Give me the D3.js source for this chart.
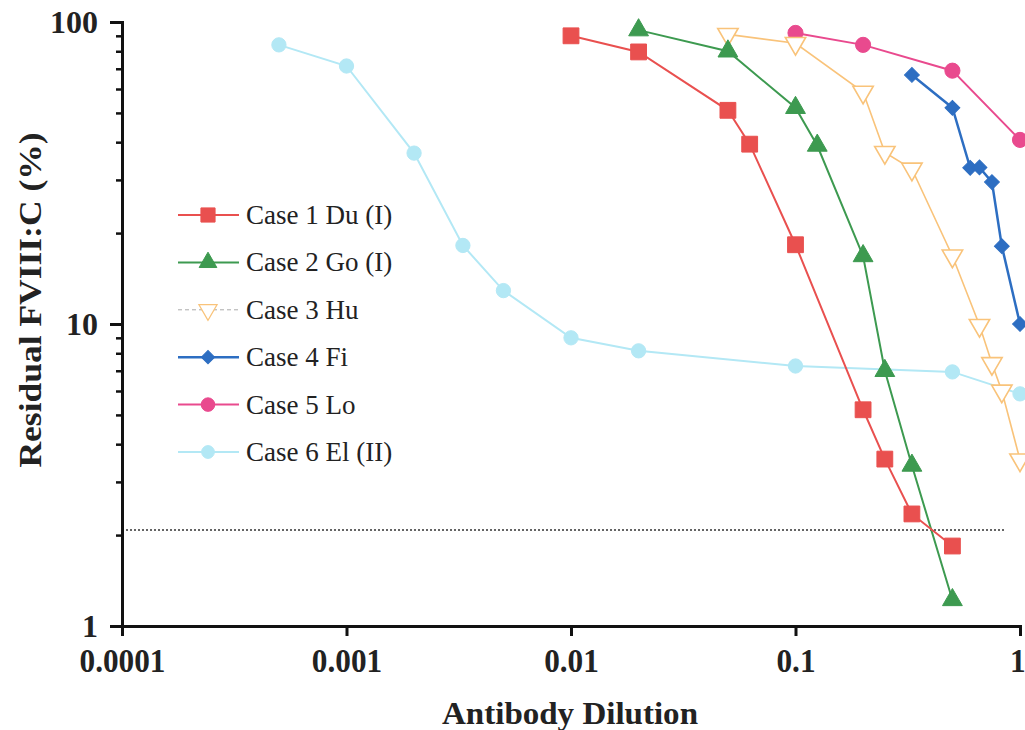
<!DOCTYPE html>
<html>
<head lang="en">
    <meta charset="UTF-8">
    <title>Residual FVIII:C</title>
    <script src="https://cdn.jsdelivr.net/npm/d3@7/dist/d3.min.js"></script>
    <style>
        body { margin: 0; background: #fff; }
        svg text { font-family: "Liberation Serif", "DejaVu Serif", serif; }
    </style>
</head>
<body>
<div id="chart"></div>
<script>
    // dilution (x) and residual FVIII:C % (y) per case
    var case1X = [0.01, 0.02, 0.05, 0.0625, 0.1, 0.2, 0.25, 0.33, 0.5];
    var case1Y = [90, 79.6, 51, 39.4, 18.3, 5.2, 3.57, 2.35, 1.84];
    var case2X = [0.02, 0.05, 0.1, 0.125, 0.2, 0.25, 0.33, 0.5];
    var case2Y = [94, 80, 52, 39, 16.8, 7.0, 3.4, 1.22];
    var case3X = [0.05, 0.1, 0.2, 0.25, 0.33, 0.5, 0.66, 0.75, 0.83, 1];
    var case3Y = [91, 85, 58.6, 37, 32.6, 16.8, 9.9, 7.4, 6.0, 3.55];
    var case4X = [0.33, 0.5, 0.6, 0.66, 0.75, 0.83, 1];
    var case4Y = [66.8, 52, 32.9, 33, 29.5, 18.1, 10];
    var case5X = [0.1, 0.2, 0.5, 1];
    var case5Y = [92, 84, 69, 40.7];
    var case6X = [0.0005, 0.001, 0.002, 0.0033, 0.005, 0.01, 0.02, 0.1, 0.5, 1];
    var case6Y = [84, 71.5, 36.8, 18.2, 12.9, 9.0, 8.15, 7.26, 6.94, 5.87];

    var caseNames = ["Case 1 Du (I)", "Case 2 Go (I)", "Case 3 Hu", "Case 4 Fi", "Case 5 Lo", "Case 6 El (II)"];

    var cutoffY = 2.08;
    var cutoffX = [0.0001, 0.86];

    var xTicks = [0.0001, 0.001, 0.01, 0.1, 1];
    var xTickLabels = ["0.0001", "0.001", "0.01", "0.1", "1"];
    var yTicks = [1, 10, 100];
    var yTickLabels = ["1", "10", "100"];
    var yMinor = [2, 3, 4, 5, 6, 7, 8, 9, 20, 30, 40, 50, 60, 70, 80, 90];

    var series = [
        {x: case1X, y: case1Y, color: "#e9504f", shape: d3.symbolSquare, size: 250, fill: true, width: 2},
        {x: case2X, y: case2Y, color: "#3d9a50", shape: d3.symbolTriangle, size: 170, fill: true, width: 2},
        {x: case3X, y: case3Y, color: "#f9c37a", shape: d3.symbolTriangle, size: 180, fill: false, width: 1.6, rot: 180},
        {x: case4X, y: case4Y, color: "#2d6ec2", shape: d3.symbolSquare, size: 110, fill: true, width: 2.5, rot: 45},
        {x: case5X, y: case5Y, color: "#e94a8e", shape: d3.symbolCircle, size: 180, fill: true, width: 2},
        {x: case6X, y: case6Y, color: "#b3e8f5", shape: d3.symbolCircle, size: 160, fill: true, width: 2}
    ];

    var W = 1025, H = 730;
    var svg = d3.select("#chart").append("svg").attr("width", W).attr("height", H);

    var x = d3.scaleLog().domain([0.0001, 1]).range([122, 1020]);
    var y = d3.scaleLog().domain([1, 100]).range([626, 22]);

    // cutoff line
    svg.append("line")
        .attr("x1", x(cutoffX[0])).attr("x2", x(cutoffX[1]))
        .attr("y1", y(cutoffY)).attr("y2", y(cutoffY))
        .attr("stroke", "#333").attr("stroke-width", 1.6)
        .attr("stroke-dasharray", "2,2");

    // series lines and markers
    var line = d3.line().x(function(d){ return x(d[0]); }).y(function(d){ return y(d[1]); });
    series.slice().reverse().forEach(function(s){
        var pts = s.x.map(function(v, i){ return [v, s.y[i]]; });
        svg.append("path").datum(pts)
            .attr("d", line)
            .attr("fill", "none")
            .attr("stroke", s.color)
            .attr("stroke-width", s.width);
        svg.selectAll(null).data(pts).enter().append("path")
            .attr("d", d3.symbol().type(s.shape).size(s.size))
            .attr("transform", function(d){
                return "translate(" + x(d[0]) + "," + y(d[1]) + ")" + (s.rot ? " rotate(" + s.rot + ")" : "");
            })
            .attr("fill", s.fill ? s.color : "#fff")
            .attr("stroke", s.color)
            .attr("stroke-width", s.fill ? 1 : 1.6);
    });

    // axes
    var xAxis = d3.axisBottom(x).tickValues(xTicks).tickSize(10).tickFormat(function(d, i){ return xTickLabels[i]; });
    var gx = svg.append("g").attr("transform", "translate(0," + 626 + ")").call(xAxis);
    gx.select(".domain").attr("stroke", "#111").attr("stroke-width", 3);
    gx.selectAll(".tick line").attr("stroke", "#111").attr("stroke-width", 3);
    gx.selectAll(".tick text")
        .attr("y", 46).attr("dy", null)
        .attr("font-size", 34).attr("font-weight", "bold").attr("fill", "#222")
        .attr("transform", "scale(0.92,1)");
    // last label sits against the right edge
    gx.selectAll(".tick text").filter(function(d){ return d === 1; }).attr("x", -3);

    var yAxisMinor = d3.axisLeft(y).tickValues(yMinor).tickSize(6).tickFormat("");
    var gym = svg.append("g").attr("transform", "translate(122,0)").call(yAxisMinor);
    gym.select(".domain").remove();
    gym.selectAll(".tick line").attr("stroke", "#111").attr("stroke-width", 2.5);

    var yAxis = d3.axisLeft(y).tickValues(yTicks).tickSize(12).tickFormat(function(d, i){ return yTickLabels[i]; });
    var gy = svg.append("g").attr("transform", "translate(122,0)").call(yAxis);
    gy.select(".domain").attr("stroke", "#111").attr("stroke-width", 3);
    gy.selectAll(".tick line").attr("stroke", "#111").attr("stroke-width", 3);
    gy.selectAll(".tick text")
        .attr("x", -24)
        .attr("font-size", 32).attr("font-weight", "bold").attr("fill", "#222");

    // axis titles
    svg.append("text")
        .attr("x", 570).attr("y", 724)
        .attr("text-anchor", "middle")
        .attr("font-size", 31).attr("font-weight", "bold").attr("fill", "#222")
        .attr("textLength", 256).attr("lengthAdjust", "spacingAndGlyphs")
        .text("Antibody Dilution");
    svg.append("text")
        .attr("transform", "translate(41,300) rotate(-90)")
        .attr("text-anchor", "middle")
        .attr("font-size", 31).attr("font-weight", "bold").attr("fill", "#222")
        .attr("textLength", 335).attr("lengthAdjust", "spacingAndGlyphs")
        .text("Residual FVIII:C (%)");

    // legend
    var legend = svg.append("g");
    series.forEach(function(s, i){
        var ly = 215 + i * 47.4;
        var g = legend.append("g").attr("transform", "translate(0," + ly + ")");
        g.append("line")
            .attr("x1", 178).attr("x2", 239).attr("y1", 0).attr("y2", 0)
            .attr("stroke", i === 2 ? "#aaa" : s.color)
            .attr("stroke-width", i === 2 ? 1 : s.width)
            .attr("stroke-dasharray", i === 2 ? "4,3" : null);
        g.append("path")
            .attr("d", d3.symbol().type(s.shape).size(s.size * 0.8))
            .attr("transform", "translate(208,0)" + (s.rot ? " rotate(" + s.rot + ")" : ""))
            .attr("fill", s.fill ? s.color : "#fff")
            .attr("stroke", s.color)
            .attr("stroke-width", s.fill ? 1 : 1.2);
        g.append("text")
            .attr("x", 246).attr("y", 9)
            .attr("font-size", 27).attr("fill", "#222")
            .text(caseNames[i]);
    });
</script>
</body>
</html>
